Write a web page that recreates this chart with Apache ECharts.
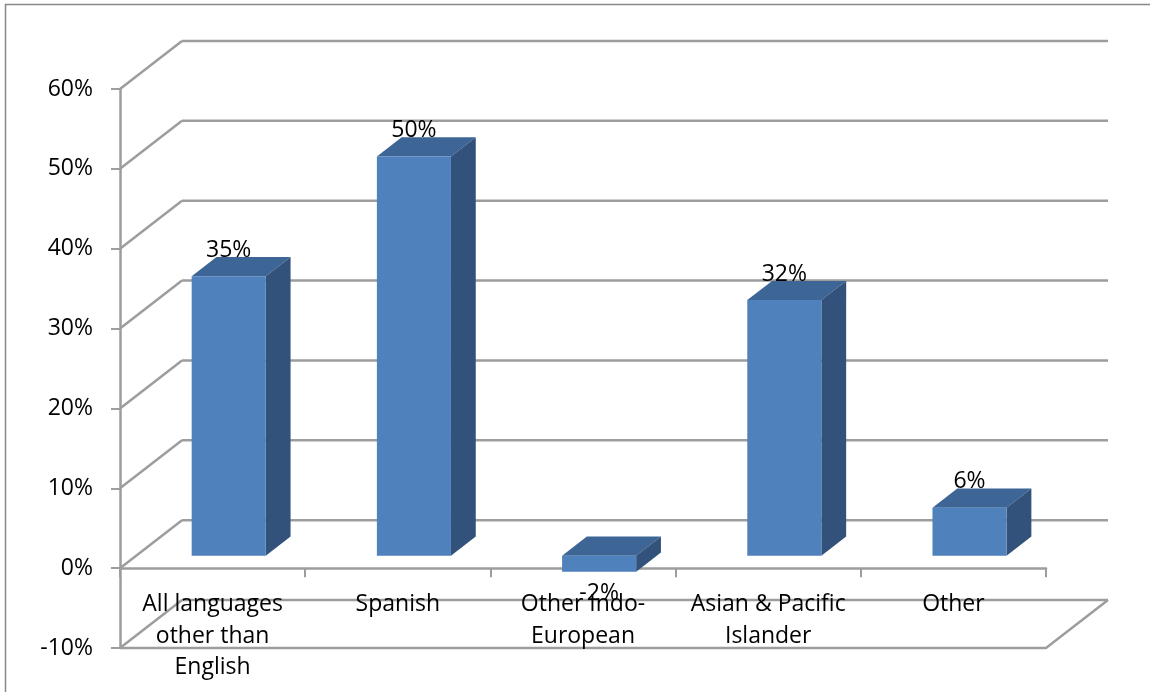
<!DOCTYPE html>
<html>
<head>
<meta charset="utf-8">
<script src="https://cdn.jsdelivr.net/npm/echarts@6/dist/echarts.min.js"></script>
<style>
  html, body { margin: 0; padding: 0; background: #fff; }
  #chart { width: 1150px; height: 692px; }
</style>
</head>
<body>
<div id="chart"></div>
<script>
// Share of speakers, by language group
const categories = ['All languages\nother than\nEnglish', 'Spanish', 'Other Indo-\nEuropean', 'Asian & Pacific\nIslander', 'Other'];
const values = [35, 50, -2, 32, 6];
const axisMin = -10;
const axisMax = 60;
const axisStep = 10;

// 3D look: projected offset of the full chart depth, and where the bars sit in it
const DEPTH = [62, -48];
const BAR_FRONT = 0.26;
const BAR_DEPTH = 0.4;
const BAR_WIDTH = 0.4;
const FONT = '"Open Sans", sans-serif';
const FONT_SIZE = 23;
const LINE_COLOR = '#9d9d9d';
const FACE_FRONT = '#4f81bd';
const FACE_TOP = '#3d6595';
const FACE_SIDE = '#32527b';

const chart = echarts.init(document.getElementById('chart'));

// back wall gridlines, side wall diagonals, floor outline and category names
function renderWalls(params, api) {
  const cs = params.coordSys;
  const x0 = cs.x, x1 = cs.x + cs.width;
  const dx = DEPTH[0], dy = DEPTH[1];
  const style = { stroke: LINE_COLOR, lineWidth: 2.5, fill: null };
  const children = [];
  for (let v = axisMin; v <= axisMax; v += axisStep) {
    const y = api.coord([0, v])[1];
    children.push({ type: 'line', shape: { x1: x0 + dx, y1: y + dy, x2: x1 + dx, y2: y + dy }, style: style });
    children.push({ type: 'line', shape: { x1: x0, y1: y, x2: x0 + dx, y2: y + dy }, style: style });
  }
  const yFloor = api.coord([0, axisMin])[1];
  children.push({ type: 'polyline', shape: { points: [[x0, yFloor], [x1, yFloor], [x1 + dx, yFloor + dy]] }, style: style });
  // category names hang below the zero line
  categories.forEach(function (name, i) {
    const p = api.coord([i, 0]);
    children.push({ type: 'text', z2: 10,
      style: { text: name, x: p[0], y: p[1] + 21, align: 'center', verticalAlign: 'top',
        lineHeight: 31.5, fontFamily: FONT, fontSize: FONT_SIZE, fill: '#000' } });
  });
  return { type: 'group', children: children };
}

// one box-shaped column with its value label
function renderBar(params, api) {
  const i = api.value(0);
  const v = api.value(1);
  const cs = params.coordSys;
  const band = cs.width / categories.length;
  const ox = DEPTH[0] * BAR_FRONT, oy = DEPTH[1] * BAR_FRONT;
  const ddx = DEPTH[0] * BAR_DEPTH, ddy = DEPTH[1] * BAR_DEPTH;
  const cx = api.coord([i, 0])[0] + ox;
  const yTop = api.coord([i, Math.max(v, 0)])[1] + oy;
  const yBot = api.coord([i, Math.min(v, 0)])[1] + oy;
  const w = band * BAR_WIDTH;
  const l = cx - w / 2, r = cx + w / 2;
  return {
    type: 'group',
    children: [
      { type: 'polygon', shape: { points: [[l, yTop], [r, yTop], [r + ddx, yTop + ddy], [l + ddx, yTop + ddy]] },
        style: { fill: FACE_TOP } },
      { type: 'polygon', shape: { points: [[r, yTop], [r + ddx, yTop + ddy], [r + ddx, yBot + ddy], [r, yBot]] },
        style: { fill: FACE_SIDE } },
      { type: 'rect', shape: { x: l, y: yTop, width: w, height: yBot - yTop },
        style: { fill: FACE_FRONT } },
      { type: 'text',
        style: { text: v + '%', x: cx, y: v >= 0 ? yTop - 26 : yBot + 22,
          align: 'center', verticalAlign: 'middle',
          fontFamily: FONT, fontSize: FONT_SIZE, fill: '#000' } }
    ]
  };
}

chart.setOption({
  animation: false,
  backgroundColor: '#fff',
  grid: { left: 120, right: 104, top: 89, bottom: 44, containLabel: false, outerBoundsMode: 'none' },
  graphic: [{
    type: 'rect', silent: true,
    shape: { x: 5.5, y: 4.5, width: 1200, height: 800 },
    style: { fill: null, stroke: '#878787', lineWidth: 1.5 }
  }],
  xAxis: {
    type: 'category',
    data: categories,
    boundaryGap: true,
    axisLine: { show: true, onZero: true, lineStyle: { color: LINE_COLOR, width: 2.5 } },
    axisTick: { show: true, length: 9, interval: 0, lineStyle: { color: LINE_COLOR, width: 2 } },
    axisLabel: { show: false },
    splitLine: { show: false }
  },
  yAxis: {
    type: 'value',
    min: axisMin, max: axisMax, interval: axisStep,
    axisLine: { show: true, lineStyle: { color: LINE_COLOR, width: 2.5 } },
    axisTick: { show: true, length: 9, lineStyle: { color: LINE_COLOR, width: 2 } },
    axisLabel: { formatter: '{value}%', margin: 27, fontFamily: FONT, fontSize: FONT_SIZE, color: '#000' },
    splitLine: { show: false }
  },
  series: [
    { type: 'custom', renderItem: renderWalls, data: [[0, 0]], silent: true, z: 1, clip: false },
    { type: 'custom', renderItem: renderBar, data: values.map((v, i) => [i, v]), z: 2, clip: false }
  ]
});
</script>
</body>
</html>
